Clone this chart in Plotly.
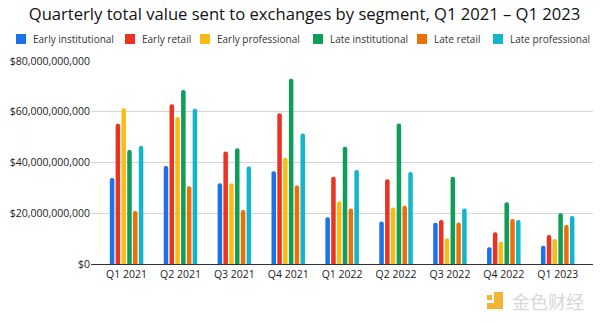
import plotly.graph_objects as go

# Quarters on the x axis
quarters = ["Q1 2021", "Q2 2021", "Q3 2021", "Q4 2021", "Q1 2022",
            "Q2 2022", "Q3 2022", "Q4 2022", "Q1 2023"]

# Value sent to exchanges, in billions of USD, per segment
early_institutional = [33.9, 38.6, 31.8, 36.6, 18.4, 16.7, 16.3, 6.6, 7.2]
early_retail = [55.3, 63.0, 44.3, 59.4, 34.4, 33.4, 17.3, 12.5, 11.4]
early_professional = [61.4, 57.9, 31.8, 41.9, 24.6, 22.3, 10.1, 8.8, 9.9]
late_institutional = [44.9, 68.6, 45.6, 73.0, 46.2, 55.4, 34.4, 24.3, 20.0]
late_retail = [20.9, 30.6, 21.3, 30.9, 21.9, 23.0, 16.4, 17.7, 15.4]
late_professional = [46.5, 61.2, 38.4, 51.4, 37.0, 36.3, 21.9, 17.3, 18.9]

series_names = ["Early institutional", "Early retail", "Early professional",
                "Late institutional", "Late retail", "Late professional"]
series_values = [early_institutional, early_retail, early_professional,
                 late_institutional, late_retail, late_professional]
colors = ["#1a73e8", "#ea3323", "#f9bc15", "#0f9d58", "#e8710a", "#12b5cb"]

y_ticks = [0, 20e9, 40e9, 60e9, 80e9]
y_tick_labels = ["$" + f"{int(v):,}" for v in y_ticks]

FONT = "Open Sans"

fig = go.Figure()
for name, vals, col in zip(series_names, series_values, colors):
    fig.add_trace(go.Bar(
        x=quarters,
        y=[v * 1e9 for v in vals],
        name=name,
        marker=dict(color=col, cornerradius=2, line=dict(width=0)),
        showlegend=False,
    ))

# Hand-placed legend row under the title
legend_x = [16, 125, 200, 313, 417, 493]
for name, col, lx in zip(series_names, colors, legend_x):
    fig.add_shape(type="rect", xref="paper", yref="paper",
                  x0=(lx - 91) / 502, x1=(lx + 10 - 91) / 502,
                  y0=(264 - 44) / 203, y1=(264 - 34) / 203,
                  fillcolor=col, line=dict(width=0))
    fig.add_annotation(text=name, xref="paper", yref="paper",
                       x=(lx + 15 - 91) / 502, y=(264 - 39) / 203,
                       xanchor="left", yanchor="middle", showarrow=False,
                       font=dict(family=FONT, size=10, color="#333333"))

# Watermark in the lower right corner
fig.add_shape(type="rect", xref="paper", yref="paper",
              x0=(487 - 91) / 502, x1=(492 - 91) / 502,
              y0=(264 - 300) / 203, y1=(264 - 295) / 203,
              fillcolor="#f5b335", line=dict(width=0))
fig.add_shape(type="path", xref="paper", yref="paper",
              path="M {a},{b} L {c},{b} L {c},{d} L {e},{d} L {e},{f} L {a},{f} Z".format(
                  a=(494 - 91) / 502, b=(264 - 292) / 203, c=(503 - 91) / 502,
                  d=(264 - 309) / 203, e=(487 - 91) / 502, f=(264 - 303) / 203),
              fillcolor="#f5b335", line=dict(width=0))
fig.add_annotation(text="金色财经", xref="paper", yref="paper",
                   x=(510 - 91) / 502, y=(264 - 301) / 203,
                   xanchor="left", yanchor="middle", showarrow=False,
                   font=dict(family="Noto Sans CJK SC", size=18, color="#d8d8d8"))

fig.update_layout(
    width=600, height=323,
    margin=dict(l=91, r=7, t=61, b=59),
    paper_bgcolor="white", plot_bgcolor="white",
    barmode="group", bargap=0.355, bargroupgap=0.22,
    title=dict(text="Quarterly total value sent to exchanges by segment, Q1 2021 – Q1 2023",
               x=(304.5 - 0) / 600, xanchor="center", y=1 - 14 / 323, yanchor="middle",
               font=dict(family=FONT, size=16.6, color="#111111")),
    font=dict(family=FONT, size=11, color="#333333"),
    xaxis=dict(type="category", range=[-0.66, 8.655], showgrid=False,
               showline=True, linecolor="#333333", linewidth=1,
               ticks="", tickfont=dict(family=FONT, size=10.5, color="#222222"),
               fixedrange=True),
    yaxis=dict(range=[0, 80e9], tickvals=y_ticks, ticktext=y_tick_labels,
               showgrid=True, gridcolor="#d6d6d6", gridwidth=1,
               zeroline=False, showline=False, ticks="", ticklen=0,
               tickfont=dict(family=FONT, size=10.5, color="#222222"),
               fixedrange=True),
)

fig.write_html("out.html")
